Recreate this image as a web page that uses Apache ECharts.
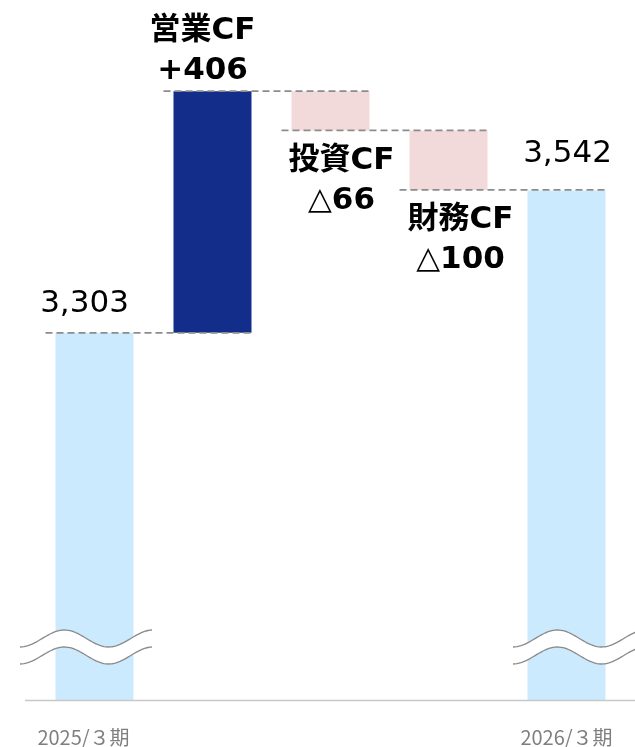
<!DOCTYPE html>
<html style="height: 100%">
<head>
<meta charset="utf-8">
</head>
<body style="height: 100%; margin: 0; background: #fff">
<div id="container" style="width: 635px; height: 747px"></div>
<script src="https://cdn.jsdelivr.net/npm/echarts@6/dist/echarts.min.js"></script>
<script>
// values (百万円)
var categories = ['2025/３期', '営業CF', '投資CF', '財務CF', '2026/３期'];
var openingBalance = 3303;
var closingBalance = 3542;
var flowNames = ['営業CF', '投資CF', '財務CF'];
var flowValues = [406, -66, -100];

var FONT = "'DejaVu Sans', 'Noto Sans CJK JP', sans-serif";
var BAR_W = 78;

// build the waterfall stack
var base = [0], up = ['-'], down = ['-'], balance = [openingBalance];
var levels = [openingBalance];
var run = openingBalance;
flowValues.forEach(function (v) {
    if (v >= 0) {
        base.push(run); up.push(v); down.push('-');
        run += v;
    } else {
        run += v;
        base.push(run); up.push('-'); down.push(-v);
    }
    balance.push('-');
    levels.push(run);
});
base.push(0); up.push('-'); down.push('-'); balance.push(closingBalance);

function flowLabel(idx) {
    var v = flowValues[idx - 1];
    return flowNames[idx - 1] + '\n' + (v >= 0 ? '+' + v : '△' + (-v));
}

var balanceData = balance.map(function (v, i) {
    if (v === '-') return v;
    return {
        value: v,
        label: i === 0 ? { distance: 13, offset: [-10, 0] } : { distance: 21, offset: [1, 0] }
    };
});
var upData = up.map(function (v, i) {
    return v === '-' ? v : { value: v, label: { offset: [-10, 0] } };
});
var downData = down.map(function (v, i) {
    return v === '-' ? v : { value: v, label: { offset: [i === 2 ? 11 : 12, 0] } };
});

// connector lines between bars
var connectors = [];
for (var i = 0; i < levels.length; i++) connectors.push([i, levels[i]]);

var dom = document.getElementById('container');
var myChart = echarts.init(dom, null, { renderer: 'canvas' });

// axis-break squiggle (decoration)
function wavePts(x0, y0) {
    var pts = [];
    for (var k = 0; k <= 133; k += 2) {
        pts.push([x0 + k, y0 - 8.5 * (1 - Math.cos(Math.PI * k / 44.3))]);
    }
    return pts;
}
function breakMark(x0) {
    var top = wavePts(x0, 647), bot = wavePts(x0, 664);
    var band = top.concat(bot.slice().reverse());
    return [
        { type: 'polygon', z: 100, shape: { points: band }, style: { fill: '#fff' } },
        { type: 'polyline', z: 101, shape: { points: top }, style: { fill: null, stroke: '#8a8a8a', lineWidth: 1.3 } },
        { type: 'polyline', z: 101, shape: { points: bot }, style: { fill: null, stroke: '#8a8a8a', lineWidth: 1.3 } }
    ];
}

var option = {
    animation: false,
    backgroundColor: '#fff',
    grid: { left: 35.5, right: 9.5, top: 40, bottom: 47, containLabel: false },
    xAxis: {
        type: 'category',
        data: categories.map(function (c, i) {
            return i === 0 ? { value: c, textStyle: { padding: [0, 22, 0, 0] } } : c;
        }),
        axisLine: { show: false },
        axisTick: { show: false },
        axisLabel: {
            interval: 0,
            margin: 27,
            fontSize: 20,
            color: '#7f7f7f',
            fontFamily: "'Noto Sans CJK JP', sans-serif",
            formatter: function (v, i) { return (i === 0 || i === categories.length - 1) ? v : ''; }
        }
    },
    yAxis: {
        type: 'value',
        min: 2686,
        max: 3795,
        show: false,
        splitLine: { show: false }
    },
    graphic: [
        { type: 'line', z: 50, shape: { x1: 25, y1: 700.5, x2: 635, y2: 700.5 }, style: { stroke: '#c8c8c8', lineWidth: 1.5 } }
    ].concat(breakMark(20), breakMark(513)),
    series: [
        {
            type: 'bar', stack: 'wf', barWidth: BAR_W, silent: true,
            itemStyle: { color: 'transparent' },
            data: base
        },
        {
            type: 'bar', stack: 'wf', barWidth: BAR_W,
            itemStyle: { color: '#cceafd' },
            label: {
                show: true, position: 'top',
                fontFamily: FONT, fontSize: 31, color: '#000',
                formatter: function (p) { return p.value.toLocaleString('en-US'); }
            },
            data: balanceData
        },
        {
            type: 'bar', stack: 'wf', barWidth: BAR_W,
            itemStyle: { color: '#122e8a' },
            label: {
                show: true, position: 'top', distance: 0,
                fontFamily: FONT, fontSize: 31, fontWeight: 'bold', color: '#000', lineHeight: 40,
                formatter: function (p) { return flowLabel(p.dataIndex); }
            },
            data: upData
        },
        {
            type: 'bar', stack: 'wf', barWidth: BAR_W,
            itemStyle: { color: '#f2dada' },
            label: {
                show: true, position: 'bottom', distance: 10,
                fontFamily: FONT, fontSize: 31, fontWeight: 'bold', color: '#000', lineHeight: 40,
                formatter: function (p) { return flowLabel(p.dataIndex); }
            },
            data: downData
        },
        {
            type: 'custom',
            z: 20,
            silent: true,
            clip: false,
            data: connectors,
            renderItem: function (params, api) {
                var idx = api.value(0);
                var v = api.value(1);
                var a = api.coord([idx, v]);
                var b = api.coord([idx + 1, v]);
                var half = BAR_W / 2;
                return {
                    type: 'line',
                    shape: { x1: a[0] - half - 10, y1: a[1], x2: b[0] + half + 2, y2: b[1] },
                    style: { stroke: '#8c8c8c', lineWidth: 1.8, lineDash: [7, 4] }
                };
            }
        }
    ]
};

myChart.setOption(option);
window.onresize = myChart.resize;
</script>
</body>
</html>
